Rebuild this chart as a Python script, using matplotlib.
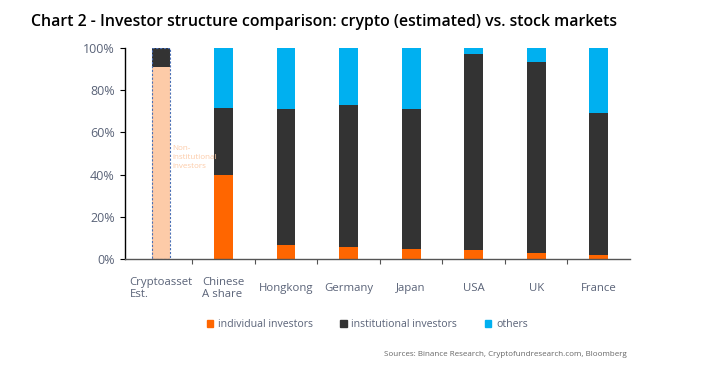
"""Investor structure comparison: crypto (estimated) vs. stock markets."""

import matplotlib
matplotlib.use("Agg")
import matplotlib.pyplot as plt
from matplotlib.patches import Patch
import numpy as np

categories = ["Cryptoasset\nEst.", "Chinese\nA share", "Hongkong", "Germany",
              "Japan", "USA", "UK", "France"]
individual = [91.0, 40.0, 6.5, 5.8, 4.6, 4.3, 2.7, 1.9]
institutional = [9.0, 31.7, 64.6, 67.3, 66.5, 92.9, 90.7, 67.1]
others = [0.0, 28.3, 28.9, 26.9, 28.9, 2.8, 6.6, 31.0]
y_ticks = [0, 20, 40, 60, 80, 100]

ORANGE = "#FF6600"
DARK = "#333333"
CYAN = "#00B0F0"
PEACH = "#FDCBA8"
TEXT = "#5a6378"

plt.rcParams["font.family"] = ["Open Sans", "DejaVu Sans"]

fig = plt.figure(figsize=(7.09, 3.72), dpi=100)
ax = fig.add_axes([0.1763, 0.3032, 0.8886 - 0.1763, 0.8718 - 0.3032])

x = np.arange(len(categories))
w = 0.30
ind_colors = [PEACH] + [ORANGE] * (len(categories) - 1)
ax.bar(x, individual, w, color=ind_colors, linewidth=0)
ax.bar(x, institutional, w, bottom=individual, color=DARK, linewidth=0)
bottom2 = np.array(individual) + np.array(institutional)
ax.bar(x, others, w, bottom=bottom2, color=CYAN, linewidth=0)

# dashed outline around the estimated crypto bar
total0 = individual[0] + institutional[0] + others[0]
ax.bar(x[0], total0, w, fill=False, edgecolor="#4a6fb5", linewidth=0.8,
       linestyle=(0, (2, 1.5)))
ax.text(x[0] + 0.18, 48, "Non-\ninstitutional\ninvestors", color=PEACH,
        fontsize=5.8, va="center", ha="left", linespacing=1.35)

ax.set_xlim(-0.575, 7.5)
ax.set_ylim(0, 100)
ax.set_yticks(y_ticks)
ax.set_yticklabels([f"{v}%" for v in y_ticks])
ax.set_xticks(x)
ax.set_xticklabels(categories, ha="center", va="center", multialignment="left")
ax.set_xticks(x[:-1] + 0.5, minor=True)
ax.tick_params(axis="x", which="major", length=0, pad=21, labelsize=8.2,
               labelcolor=TEXT)
ax.tick_params(axis="x", which="minor", length=3.5, width=0.8, color="#555555")
ax.tick_params(axis="y", length=3.5, width=0.8, labelsize=9, labelcolor=TEXT,
               pad=4)

for side in ["top", "right"]:
    ax.spines[side].set_visible(False)
ax.spines["left"].set_color("black")
ax.spines["left"].set_linewidth(1.0)
ax.spines["bottom"].set_color("#555555")
ax.spines["bottom"].set_linewidth(1.0)

fig.text(31 / 709, 0.941, "Chart 2 - Investor structure comparison: crypto (estimated) vs. stock markets",
         fontsize=11.4, fontweight="semibold", color="black", va="center", ha="left")

handles = [Patch(color=ORANGE, label="individual investors"),
           Patch(color=DARK, label="institutional investors"),
           Patch(color=CYAN, label="others")]
fig.legend(handles=handles, loc="center", bbox_to_anchor=(0.518, 0.127), ncol=3,
           frameon=False, fontsize=7.6, handlelength=0.6, handleheight=0.6,
           handletextpad=0.45, columnspacing=2.6, labelcolor=TEXT)

fig.text(627 / 709, 0.046, "Sources: Binance Research, Cryptofundresearch.com, Bloomberg",
         fontsize=5.8, color="#666666", ha="right", va="center")

fig.savefig("out.png", dpi=100)
